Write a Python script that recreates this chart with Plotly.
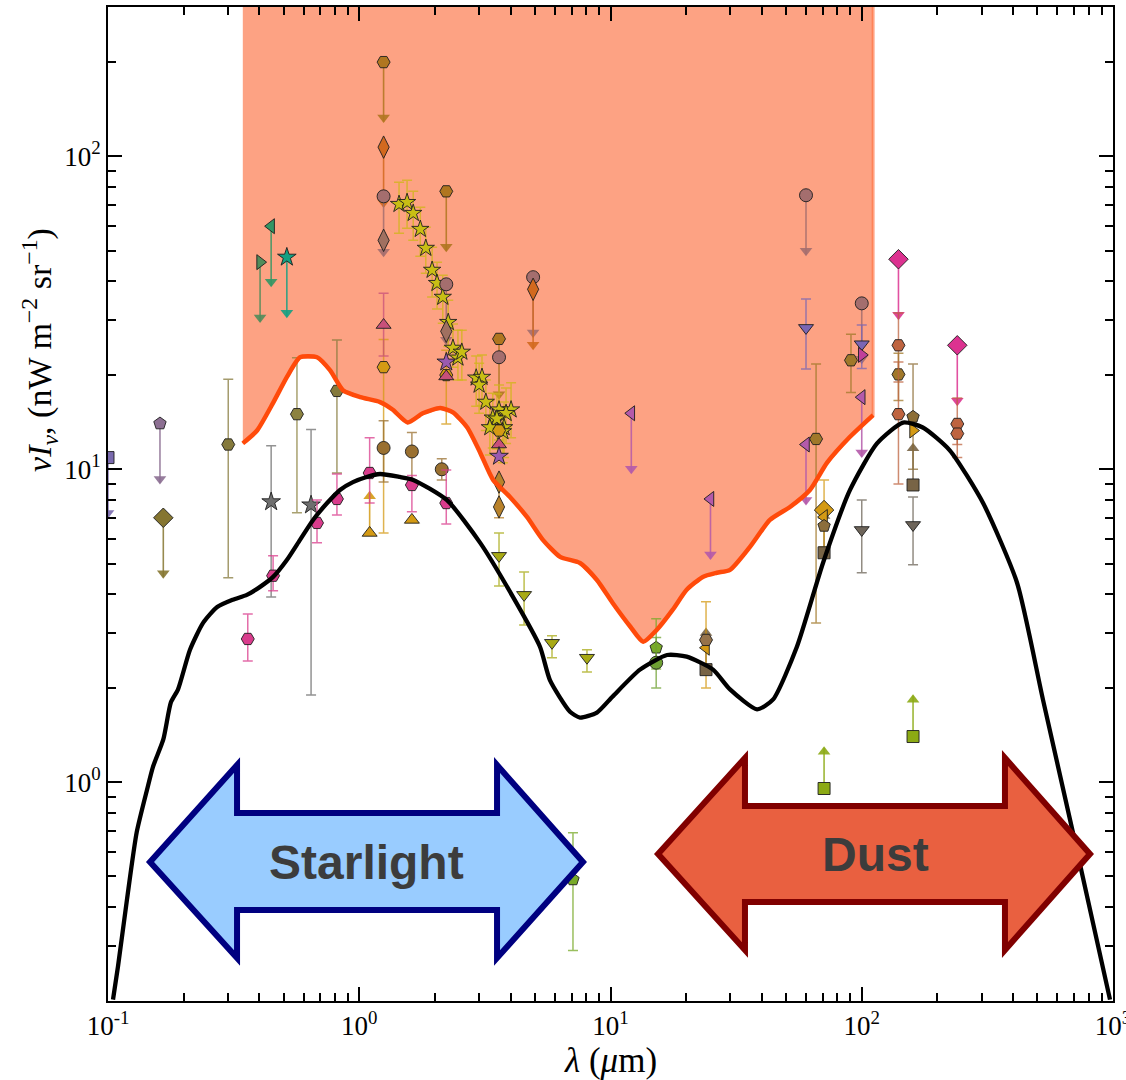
import plotly.graph_objects as go

# ---------------- model spectrum of the extragalactic background ----------------
MODEL_LAM = [0.1047, 0.1096, 0.119, 0.130, 0.143, 0.151, 0.166, 0.178, 0.190, 0.212,
             0.239, 0.272, 0.314, 0.357, 0.403, 0.454, 0.515, 0.581, 0.655, 0.745,
             0.838, 0.944, 1.07, 1.21, 1.45, 1.64, 2.23, 3.03, 4.09, 5.24,
             5.74, 6.90, 7.56, 8.83, 10.2, 13.1, 16.8, 20.1, 25.6, 29.9, 38.3,
             44.4, 55.2, 70.1, 89.8, 115, 146, 175, 224, 304, 415,
             526, 693, 973]
MODEL_NUI = [0.202, 0.258, 0.422, 0.690, 0.946, 1.12, 1.37, 1.80, 1.98, 2.65,
             3.23, 3.63, 3.83, 3.97, 4.21, 4.53, 5.13, 5.95, 6.89, 7.80,
             8.59, 9.10, 9.45, 9.66, 9.45, 9.25, 7.98, 5.82, 3.91, 2.71,
             2.12, 1.68, 1.61, 1.67, 1.88, 2.29, 2.55, 2.52, 2.29, 1.98, 1.71,
             1.84, 2.71, 5.02, 8.59, 12.1, 14.1, 13.6, 11.5, 7.80, 4.34,
             1.84, 0.690, 0.202]

# ---------------- lower edge of the excluded region ----------------
LIMIT_LAM = [0.344, 0.392, 0.454, 0.515, 0.581, 0.679, 0.766, 0.861, 1.01, 1.21,
             1.36, 1.56, 1.79, 2.10, 2.36, 2.69, 3.03, 3.41, 3.98, 4.65,
             5.38, 6.30, 7.56, 8.83, 10.2, 12.0, 13.5, 15.3, 17.7, 20.1,
             23.3, 26.5, 29.9, 35.9, 43.1, 51.8, 62.2, 72.8, 89.8, 111]
LIMIT_NUI = [12.1, 13.3, 16.3, 19.7, 22.8, 22.8, 20.7, 17.9, 17.0, 16.4,
             15.5, 14.1, 15.1, 15.7, 15.2, 13.6, 11.3, 9.25, 8.16, 7.04,
             5.95, 5.25, 5.02, 4.43, 3.74, 3.14, 2.81, 3.07, 3.56, 4.12,
             4.53, 4.67, 4.77, 5.65, 6.89, 7.58, 8.59, 10.5, 12.7, 14.9]

# ---------------- measurements with error bars ----------------
MEAS_LAM = [0.301, 0.360, 0.446, 0.454, 0.565, 0.643, 0.679, 0.815, 0.815, 1.10,
            1.25, 1.25, 1.25, 1.62, 1.62, 2.13, 2.22, 2.22, 3.6, 3.6,
            4.53, 5.85, 8.06, 7.09, 15.2, 15.2, 24.0, 60.0, 65.8, 70.8,
            90.6, 100, 100, 140, 140, 140, 160, 160, 240, 240]
MEAS_NUI = [12.0, 2.87, 7.87, 4.57, 15.0, 7.69, 6.74, 17.8, 8.04, 9.73,
            21.2, 11.7, 28.9, 11.4, 8.91, 10.0, 7.80, 20.0, 7.58, 5.29,
            3.97, 2.79, 2.50, 0.489, 2.69, 2.41, 2.69, 28.3, 12.5, 7.41,
            22.3, 25.1, 6.40, 24.9, 20.1, 15.0, 14.7, 6.64, 13.96, 13.0]
MEAS_HI = [19.4, 3.45, 11.9, 5.29, 22.7, 13.4, 7.98, 25.9, 9.66, 12.6,
           26.0, 14.3, 36.5, 13.1, 9.55, 10.8, 9.95, 24.0, 9.10, 6.26,
           4.70, 2.94, 2.65, 0.690, 3.33, 2.90, 3.77, 35.0, 21.7, 9.25,
           27.0, 28.9, 7.98, 31.6, 23.5, 22.0, 21.7, 8.16, 16.9, 14.0]
MEAS_LO = [4.50, 2.44, 3.91, 4.09, 7.26, 1.90, 5.82, 9.73, 7.15, 7.80,
           6.26, 9.10, 23.0, 9.25, 7.31, 9.25, 6.69, 13.96, 7.00, 4.24,
           3.18, 2.50, 2.25, 0.290, 2.30, 2.00, 2.00, 20.9, 3.23, 5.65,
           17.6, 21.0, 4.67, 19.0, 16.6, 8.98, 10.0, 4.95, 12.0, 10.9]
MEAS_SYMBOL = ["hexagon2", "hexagon2", "star", "hexagon2", "hexagon2", "star", "hexagon2", "hexagon2", "hexagon2", "hexagon2",
               "hexagon2", "circle", "triangle-up", "circle", "hexagon2", "circle", "hexagon2", "hexagon2", "diamond-tall", "triangle-down",
               "triangle-down", "triangle-down", "triangle-down", "pentagon", "pentagon", "circle", "triangle-left", "triangle-down", "hexagon2", "diamond",
               "hexagon2", "triangle-down", "triangle-down", "hexagon2", "hexagon2", "hexagon2", "pentagon", "triangle-down", "hexagon2", "hexagon2"]
MEAS_COLOR = ["#857a3c", "#d93c8c", "#6e6e6e", "#d93c8c", "#8c8240", "#6e6e6e", "#d93c8c", "#857a3c", "#d93c8c", "#d93c8c",
              "#d49a14", "#9a7030", "#c8507a", "#9a7030", "#d93c8c", "#9a7030", "#d93c8c", "#d49a14", "#b9822a", "#a8aa14",
              "#a8aa14", "#a8aa14", "#a8aa14", "#78aa28", "#78aa28", "#6ea032", "#d49a14", "#7a66b4", "#a0782a", "#d49a14",
              "#a0782a", "#7a66b4", "#6e655a", "#be6440", "#a0782a", "#be6440", "#8c6e37", "#6e655a", "#be6440", "#be6440"]

# ---------------- near-infrared fluctuation-derived series ----------------
STAR_LAM = [1.44, 1.55, 1.64, 1.75, 1.84, 1.95, 2.04, 2.15, 2.26, 2.36, 2.47, 2.56,
            2.92, 3.08, 3.00, 3.19, 3.60, 4.02, 3.84, 3.40, 3.53, 3.31, 3.77, 3.73]
STAR_NUI = [70.3, 71.3, 65.8, 58.5, 50.9, 43.3, 39.3, 35.5, 29.5, 24.4, 22.7, 23.7,
            19.6, 19.7, 18.6, 16.4, 15.5, 15.5, 15.1, 14.6, 14.5, 13.6, 13.6, 13.2]
STAR_HI = [82.6, 83.8, 77.3, 68.7, 59.3, 51.2, 45.9, 41.7, 34.7, 29.1, 27.8, 27.8,
           23.0, 23.2, 21.8, 19.3, 18.6, 18.9, 18.2, 17.5, 17.4, 16.6, 16.4, 15.8]
STAR_LO = [56.8, 58.9, 53.9, 47.9, 42.3, 35.5, 32.5, 29.3, 24.7, 21.2, 19.3, 19.3,
           15.9, 16.0, 15.1, 13.3, 12.4, 12.6, 12.1, 11.7, 11.6, 11.1, 10.9, 10.5]

# ---------------- points without error bars ----------------
POINT_LAM = [1.62, 1.25, 2.22, 2.22, 2.22, 3.6, 3.6, 3.6, 3.6,
             3.6, 24.0, 70.8, 70.8, 160, 100]
POINT_NUI = [6.89, 53.9, 27.6, 19.8, 22.0, 22.8, 13.3, 12.0, 11.0,
             9.10, 2.85, 7.04, 6.59, 13.3, 23.2]
POINT_SYMBOL = ["triangle-up", "diamond-tall", "diamond-tall", "triangle-up", "star", "circle", "hexagon2", "triangle-up", "star",
                "diamond-tall", "hexagon2", "triangle-left", "pentagon", "triangle-right", "triangle-right"]
POINT_COLOR = ["#d49a14", "#a07060", "#a07060", "#c8507a", "#9a5ab0", "#a46e6e", "#d49a14", "#c8507a", "#9a5ab0",
               "#b9822a", "#96734a", "#d49a14", "#8c6e3c", "#d49a14", "#c0409a"]

# ---------------- upper limits ----------------
UPPER_LAM = [0.1, 0.161, 0.166, 0.403, 0.446, 0.515, 1.25, 1.25, 1.25, 2.22, 2.22,
             3.6, 4.92, 4.92, 12.1, 25.0, 60.0, 60.0, 100, 100, 140, 240]
UPPER_NUI = [10.9, 14.0, 7.0, 45.9, 59.8, 47.6, 200, 107, 74.5, 77.3, 39.0,
             26.1, 41.1, 37.6, 15.1, 8.04, 75.1, 12.0, 33.9, 17.0, 46.9, 24.9]
UPPER_SYMBOL = ["square", "pentagon", "diamond", "triangle-right", "triangle-left", "star", "hexagon2", "diamond-tall", "circle", "hexagon2", "circle",
                "hexagon2", "circle", "diamond-tall", "triangle-left", "triangle-left", "circle", "triangle-left", "circle", "triangle-left", "diamond", "diamond"]
UPPER_COLOR = ["#7a6aae", "#8c6f92", "#857530", "#508c5a", "#329664", "#14a082", "#b07620", "#d2691e", "#a46e6e", "#b07620", "#a46e6e",
               "#b07620", "#a46e6e", "#d2691e", "#b45aaa", "#b45aaa", "#a46e6e", "#b45aaa", "#a46e6e", "#b45aaa", "#dc3290", "#dc3290"]

# ---------------- lower limits ----------------
LOWER_LAM = [1.10, 24.0, 70.8, 160, 70.8, 160]
LOWER_NUI = [6.26, 2.29, 5.41, 8.91, 0.955, 1.40]
LOWER_SYMBOL = ["triangle-up", "square", "square", "square", "square", "square"]
LOWER_COLOR = ["#d49a14", "#786446", "#786446", "#786446", "#8caa14", "#8caa14"]

# axis ticks
X_TICKS = [0.1, 1, 10, 100, 1000]
X_TICKTEXT = ["10<sup>-1</sup>", "10<sup>0</sup>", "10<sup>1</sup>", "10<sup>2</sup>", "10<sup>3</sup>"]
Y_TICKS = [1, 10, 100]
Y_TICKTEXT = ["10<sup>0</sup>", "10<sup>1</sup>", "10<sup>2</sup>"]

# ---------------- styling ----------------
SIZES = {"circle": 13, "hexagon2": 13, "star": 14, "triangle-up": 13, "triangle-down": 13,
         "triangle-left": 13, "triangle-right": 13, "diamond-tall": 16, "diamond": 15,
         "square": 12, "pentagon": 13}
EDGE = dict(color="rgba(30,30,30,0.9)", width=1)
DOWN = 10 ** -0.19   # length of an upper-limit arrow (multiplicative)
UP = 10 ** 0.13      # length of a lower-limit arrow


def rgba(hex_color, alpha):
    h = hex_color.lstrip("#")
    r, g, b = int(h[0:2], 16), int(h[2:4], 16), int(h[4:6], 16)
    return f"rgba({r},{g},{b},{alpha})"


fig = go.Figure()

# shaded excluded region above the limit curve
fig.add_trace(go.Scatter(
    x=LIMIT_LAM + [LIMIT_LAM[-1], LIMIT_LAM[0]],
    y=LIMIT_NUI + [1e4, 1e4],
    mode="lines", fill="toself", fillcolor="#fda283",
    line=dict(color="rgba(255,110,60,0.6)", width=3),
    hoverinfo="skip"))

# upper limits: stem + arrow head
for lam, v, sym, col in zip(UPPER_LAM, UPPER_NUI, UPPER_SYMBOL, UPPER_COLOR):
    fig.add_trace(go.Scatter(x=[lam, lam], y=[v, v * DOWN], mode="lines",
                             line=dict(color=rgba(col, 0.85), width=1.6), hoverinfo="skip"))
    fig.add_trace(go.Scatter(x=[lam], y=[v * DOWN * 1.03], mode="markers",
                             marker=dict(symbol="triangle-down", size=11, color=rgba(col, 0.9),
                                         opacity=1, line=dict(width=0)), hoverinfo="skip"))

# lower limits: stem + arrow head
for lam, v, sym, col in zip(LOWER_LAM, LOWER_NUI, LOWER_SYMBOL, LOWER_COLOR):
    fig.add_trace(go.Scatter(x=[lam, lam], y=[v, v * UP], mode="lines",
                             line=dict(color=rgba(col, 0.85), width=1.6), hoverinfo="skip"))
    fig.add_trace(go.Scatter(x=[lam], y=[v * UP / 1.03], mode="markers",
                             marker=dict(symbol="triangle-up", size=11, color=rgba(col, 0.9),
                                         opacity=1, line=dict(width=0)), hoverinfo="skip"))

# measurements with asymmetric error bars
for lam, v, hi, lo, sym, col in zip(MEAS_LAM, MEAS_NUI, MEAS_HI, MEAS_LO, MEAS_SYMBOL, MEAS_COLOR):
    fig.add_trace(go.Scatter(
        x=[lam], y=[v], mode="markers",
        marker=dict(symbol=sym, size=SIZES[sym], color=col, opacity=1, line=EDGE),
        error_y=dict(type="data", symmetric=False, array=[hi - v], arrayminus=[v - lo],
                     color=rgba(col, 0.75), thickness=1.5, width=5),
        hoverinfo="skip"))

# fluctuation series
fig.add_trace(go.Scatter(
    x=STAR_LAM, y=STAR_NUI, mode="markers",
    marker=dict(symbol="star", size=13, color="#c8be14", opacity=1, line=EDGE),
    error_y=dict(type="data", symmetric=False,
                 array=[h - v for h, v in zip(STAR_HI, STAR_NUI)],
                 arrayminus=[v - l for l, v in zip(STAR_LO, STAR_NUI)],
                 color="rgba(210,180,30,0.8)", thickness=1.5, width=5),
    hoverinfo="skip"))

# points without bars and the limit markers themselves
for lams, vals, syms, cols in ((POINT_LAM, POINT_NUI, POINT_SYMBOL, POINT_COLOR),
                               (UPPER_LAM, UPPER_NUI, UPPER_SYMBOL, UPPER_COLOR),
                               (LOWER_LAM, LOWER_NUI, LOWER_SYMBOL, LOWER_COLOR)):
    fig.add_trace(go.Scatter(
        x=lams, y=vals, mode="markers",
        marker=dict(symbol=syms, size=[SIZES[s] for s in syms], color=cols,
                    opacity=1, line=EDGE),
        hoverinfo="skip"))

# limit curve and model spectrum
fig.add_trace(go.Scatter(x=LIMIT_LAM, y=LIMIT_NUI, mode="lines",
                         line=dict(color="#ff4a0a", width=4.5, shape="spline", smoothing=0.6),
                         hoverinfo="skip"))
fig.add_trace(go.Scatter(x=MODEL_LAM, y=MODEL_NUI, mode="lines",
                         line=dict(color="black", width=4.3, shape="spline", smoothing=0.6),
                         hoverinfo="skip"))

# big labelled arrows (paper coordinates of the plotting area)
STARLIGHT_PATH = ("M 0.0418,0.1398 L 0.1284,0.2374 L 0.1284,0.1891 L 0.3871,0.1891 "
                  "L 0.3871,0.2374 L 0.4726,0.1398 L 0.3871,0.0433 L 0.3871,0.0915 "
                  "L 0.1284,0.0915 L 0.1284,0.0433 Z")
DUST_PATH = ("M 0.5473,0.1479 L 0.6338,0.2445 L 0.6338,0.1962 L 0.8925,0.1962 "
             "L 0.8925,0.2445 L 0.9771,0.1479 L 0.8925,0.0513 L 0.8925,0.0996 "
             "L 0.6338,0.0996 L 0.6338,0.0513 Z")
fig.add_shape(type="path", path=STARLIGHT_PATH, xref="paper", yref="paper",
              fillcolor="#99ccff", line=dict(color="#000080", width=6), layer="above")
fig.add_shape(type="path", path=DUST_PATH, xref="paper", yref="paper",
              fillcolor="#e96040", line=dict(color="#800000", width=6), layer="above")
fig.add_annotation(text="Starlight", x=0.2577, y=0.1398, xref="paper", yref="paper",
                   showarrow=False, xanchor="center", yanchor="middle",
                   font=dict(family="Liberation Sans", size=48, color="#3c3c3c", weight="bold"))
fig.add_annotation(text="Dust", x=0.7632, y=0.1469, xref="paper", yref="paper",
                   showarrow=False, xanchor="center", yanchor="middle",
                   font=dict(family="Liberation Sans", size=48, color="#3c3c3c", weight="bold"))

# axis titles
fig.add_annotation(text="<i>λ</i> (<i>μ</i>m)", x=0.5, y=-0.0594, xref="paper", yref="paper",
                   showarrow=False, xanchor="center", yanchor="middle",
                   font=dict(family="Liberation Serif", size=35, color="black"))
fig.add_annotation(text="<i>νI<sub>ν</sub></i>, (nW m<sup>−2</sup> sr<sup>−1</sup>)",
                   x=-0.0677, y=0.655, xref="paper", yref="paper", textangle=-90,
                   showarrow=False, xanchor="center", yanchor="middle",
                   font=dict(family="Liberation Serif", size=34, color="black"))

x_minor = [m * 10 ** e for e in (-1, 0, 1, 2) for m in range(2, 10)]
y_minor = [m * 10 ** e for e in (-1, 0, 1, 2) for m in range(2, 10) if 0.2 <= m * 10 ** e <= 300]

axis_common = dict(type="log", showgrid=False, zeroline=False, showline=True,
                   linecolor="black", linewidth=2, mirror="ticks", ticks="inside",
                   ticklen=14, tickwidth=1.5, tickcolor="black",
                   tickfont=dict(family="Liberation Serif", size=27, color="black"))
fig.update_xaxes(range=[-1, 3], tickmode="array", tickvals=X_TICKS, ticktext=X_TICKTEXT,
                 ticklabeloverflow="allow",
                 minor=dict(ticks="inside", ticklen=8, tickwidth=1.5, tickcolor="black",
                            tickmode="array", tickvals=x_minor, showgrid=False),
                 **axis_common)
fig.update_yaxes(range=[-0.69897, 2.47712], tickmode="array", tickvals=Y_TICKS, ticktext=Y_TICKTEXT,
                 minor=dict(ticks="inside", ticklen=8, tickwidth=1.5, tickcolor="black",
                            tickmode="array", tickvals=y_minor, showgrid=False),
                 **axis_common)

fig.update_layout(width=1126, height=1080, showlegend=False,
                  margin=dict(l=108, r=13, t=7, b=79, autoexpand=False),
                  paper_bgcolor="white", plot_bgcolor="white")

fig.write_html("out.html")
